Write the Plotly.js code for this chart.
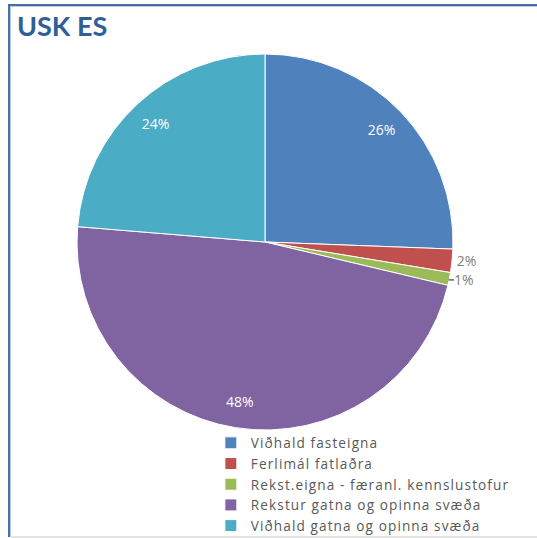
<!DOCTYPE html>
<html>
<head>
<meta charset="utf-8">
<script src="https://cdn.plot.ly/plotly-3.0.1.min.js"></script>
<style>
  html, body { margin: 0; padding: 0; background: #fff; }
  #chart { position: absolute; left: 0; top: 0; width: 537px; height: 538px; }
  #frame { position: absolute; left: 8px; top: 4px; width: 540px; height: 531px;
           border-top: 2px solid #4a6fa5; border-left: 2px solid #4a6fa5;
           box-shadow: inset 1px 1px 0 #b9c9e2; pointer-events: none; }
  #bottom { position: absolute; left: 10px; top: 536px; width: 527px; height: 2px; background: #e3e3e3; }
  .legendtext { letter-spacing: 1.1px; }
</style>
</head>
<body>
<div id="chart"></div>
<div id="frame"></div>
<div id="bottom"></div>
<script>
const categories = [
  "Viðhald fasteigna",
  "Ferlimál fatlaðra",
  "Rekst.eigna - færanl. kennslustofur",
  "Rekstur gatna og opinna svæða",
  "Viðhald gatna og opinna svæða"
];
const shares = [25.6, 2.0, 1.1, 47.6, 23.7];
const colors = ["#4f81bd", "#c0504d", "#9bbb59", "#8064a2", "#4bacc6"];
const outsideLabel = ["none", "outside", "outside", "none", "none"];
const insideLabel = ["inside", "none", "none", "inside", "inside"];

const labelFont = "'Open Sans', sans-serif";

// main pie: slices + outside labels for the small slices
const pieTrace = {
  type: "pie",
  labels: categories,
  values: shares,
  sort: false,
  direction: "clockwise",
  rotation: 0,
  marker: { colors: colors, line: { color: "#ffffff", width: 1 } },
  texttemplate: "%{percent:.0%}",
  textposition: outsideLabel,
  outsidetextfont: { family: labelFont, size: 14, color: "#808080" },
  hoverinfo: "label+percent",
  automargin: false
};

// transparent ring over the same data, used to place the inside labels near the rim
const labelRing = {
  type: "pie",
  labels: categories,
  values: shares,
  sort: false,
  direction: "clockwise",
  rotation: 0,
  hole: 0.72,
  showlegend: false,
  marker: { colors: colors.map(() => "rgba(0,0,0,0)"), line: { width: 0 } },
  texttemplate: "%{percent:.0%}",
  textposition: insideLabel,
  insidetextorientation: "horizontal",
  insidetextfont: { family: labelFont, size: 14, color: "#ffffff" },
  hoverinfo: "skip",
  automargin: false
};

const layout = {
  width: 537,
  height: 538,
  margin: { l: 77, r: 84, t: 54, b: 108, autoexpand: false },
  paper_bgcolor: "#ffffff",
  title: {
    text: "<b>USK ES</b>",
    font: { family: "Lato, sans-serif", size: 27, color: "#2e5f96" },
    x: 17 / 537, xanchor: "left", xref: "container",
    y: 1 - 27 / 538, yanchor: "middle", yref: "container"
  },
  showlegend: true,
  legend: {
    x: 0.356, xanchor: "left",
    y: 0.0066, yanchor: "top",
    font: { family: labelFont, size: 13.6, color: "#595959" },
    bgcolor: "rgba(0,0,0,0)",
    tracegroupgap: 0,
    itemwidth: 30
  }
};

Plotly.newPlot("chart", [pieTrace, labelRing], layout, { displayModeBar: false, staticPlot: true });
</script>
</body>
</html>
